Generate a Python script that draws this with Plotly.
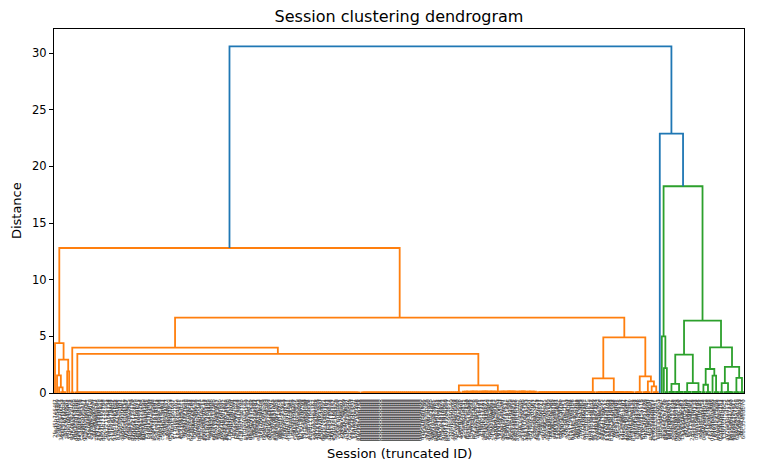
import hashlib
import plotly.graph_objects as go

# groups of (near) identical sessions, merged at ~0 distance
# side: where the parent link attaches ('l' left end, 'r' right end, 'm' middle)
group_names = ["s0", "s1", "s2", "g3", "s6", "s7", "gA", "gB", "gC1", "gC2",
               "gD1", "gD2", "gE1", "gE2", "s294", "gE3", "s298", "s299", "s300", "gF1",
               "gH1", "gH2", "gH3", "gH4", "gK1", "gK2", "s324", "gK3", "gM1", "gM2",
               "gM3", "gM4"]
group_sizes = [1, 1, 1, 3, 1, 1, 2, 141, 50, 37,
               29, 19, 4, 4, 1, 3, 1, 1, 1, 2,
               3, 4, 4, 5, 2, 3, 1, 3, 2, 5,
               3, 2]
group_heights = [0, 0, 0, 0.08, 0, 0, 0.06, 0.06, 0.06, 0.12,
                 0.08, 0.08, 0.08, 0.08, 0, 0.08, 0, 0, 0, 0.08,
                 0.1, 0.1, 0.1, 0.1, 0.08, 0.08, 0, 0.08, 0.08, 0.08,
                 0.08, 0.08]
group_sides = ["m", "m", "m", "m", "m", "m", "m", "l", "r", "m",
               "r", "m", "r", "r", "m", "r", "m", "m", "m", "m",
               "m", "m", "m", "r", "m", "m", "m", "m", "m", "m",
               "m", "m"]

# visible merges
merge_names = ["L5", "L3", "L4", "L2", "L", "C", "R1b", "R1", "R2L", "R2R3",
               "R2R2", "R2R", "R2", "R", "O", "G1b", "G1", "G2aL", "G2aR", "G2a",
               "G2bL1", "G2bL2", "G2bL", "G2bR1", "G2bR2", "G2bR", "G2b", "G2", "G", "BL",
               "ROOT"]
merge_left = ["s2", "s1", "s6", "L3", "s0", "gC1", "gB", "gA", "gD1", "s294",
              "gE2", "gE1", "R2L", "R1", "L", "s300", "s299", "gH1", "gH3", "G2aL",
              "gK1", "s324", "G2bL1", "gM1", "gM3", "G2bR1", "G2bL", "G2a", "G1", "s298",
              "O"]
merge_right = ["g3", "L5", "s7", "L4", "L2", "gC2", "C", "R1b", "gD2", "gE3",
               "R2R3", "R2R2", "R2R", "R2", "R", "gF1", "G1b", "gH2", "gH4", "G2aR",
               "gK2", "gK3", "G2bL2", "gM2", "gM4", "G2bR2", "G2bR", "G2b", "G2", "G",
               "BL"]
merge_heights = [0.5, 1.55, 1.9, 2.94, 4.4, 0.67, 3.45, 4.0, 1.29, 0.58,
                 1.02, 1.47, 4.91, 6.66, 12.8, 2.2, 5.0, 0.8, 0.88, 3.38,
                 0.73, 1.53, 2.12, 0.88, 1.33, 2.3, 4.03, 6.39, 18.25, 22.9,
                 30.6]

n_leaves = sum(group_sizes)
# truncated session ids (the originals are not legible); one run of duplicates
dup_id = "000000000000"
dup_first, dup_last = 151, 180
session_ids = [hashlib.md5(f"session-{i}".encode()).hexdigest()[:12] for i in range(n_leaves)]
for i in range(dup_first, dup_last + 1):
    session_ids[i] = dup_id

palette = ["#ff7f0e", "#2ca02c", "#d62728", "#9467bd"]
above_color = "#1f77b4"
threshold = 0.7 * max(merge_heights)

groups = {n: (s, h, sd) for n, s, h, sd in zip(group_names, group_sizes, group_heights, group_sides)}
merges = {n: (a, b, h) for n, a, b, h in zip(merge_names, merge_left, merge_right, merge_heights)}

segs = {}
leaf_x = []


def link(color, x1, y1, x2, y2, h):
    xs, ys = segs.setdefault(color, ([], []))
    xs += [x1, x1, x2, x2, None]
    ys += [y1, h, h, y2, None]


def lay_group(name, color):
    size, h, side = groups[name]
    xs = []
    for _ in range(size):
        xs.append(5 + 10 * len(leaf_x))
        leaf_x.append(xs[-1])
    if size == 1:
        return xs[0], 0
    if side == "r":
        c, ch = xs[0], 0
        for x in xs[1:]:
            link(color, c, ch, x, 0, h)
            c, ch = (c + x) / 2, h
        return c, h
    if side == "l":
        c, ch = xs[-1], 0
        for x in reversed(xs[:-1]):
            link(color, x, 0, c, ch, h)
            c, ch = (c + x) / 2, h
        return c, h

    def bal(part):
        if len(part) == 1:
            return part[0], 0
        m = len(part) // 2
        lx, lh = bal(part[:m])
        rx, rh = bal(part[m:])
        link(color, lx, lh, rx, rh, h)
        return (lx + rx) / 2, h
    return bal(xs)


def lay(name, color, used):
    if name in groups:
        if color is None and groups[name][0] > 1:
            color = palette[len(used)]
            used.append(color)
        return lay_group(name, color)
    a, b, h = merges[name]
    if h >= threshold:
        own, sub = above_color, None
    else:
        if color is None:
            color = palette[len(used)]
            used.append(color)
        own, sub = color, color
    ax_, ah = lay(a, sub, used)
    bx, bh = lay(b, sub, used)
    link(own, ax_, ah, bx, bh, h)
    return (ax_ + bx) / 2, h


lay("ROOT", None, [])

fig = go.Figure()
for color in palette + [above_color]:
    if color in segs:
        xs, ys = segs[color]
        fig.add_trace(go.Scatter(x=xs, y=ys, mode="lines",
                                 line=dict(color=color, width=1.8),
                                 hoverinfo="skip", showlegend=False))

fig.update_layout(
    width=758, height=470,
    margin=dict(l=54, r=12, t=29, b=77),
    plot_bgcolor="white", paper_bgcolor="white",
    font=dict(family="DejaVu Sans", color="black"),
    title=dict(text="Session clustering dendrogram", x=0.5, xref="paper", xanchor="center",
               y=1 - 16 / 470, yref="container", yanchor="middle", font=dict(size=16)),
)
fig.update_xaxes(range=[0, 10 * n_leaves], tickmode="array", tickvals=leaf_x, ticktext=session_ids,
                 tickangle=-90, tickfont=dict(size=5.5, color="#333333"), ticks="", ticklabelstandoff=3,
                 showline=True, mirror=True, linecolor="black", linewidth=1,
                 showgrid=False, zeroline=False)
fig.update_yaxes(range=[0, 1.05 * max(merge_heights)], tickmode="array", tickvals=[0, 5, 10, 15, 20, 25, 30],
                 ticks="outside", ticklen=4, tickwidth=1, tickcolor="black", tickfont=dict(size=11.5),
                 showline=True, mirror=True, linecolor="black", linewidth=1,
                 showgrid=False, zeroline=False)
fig.add_annotation(text="Distance", x=(16 - 54) / 692, y=0.5, xref="paper", yref="paper",
                   textangle=-90, showarrow=False, font=dict(size=13), xanchor="center", yanchor="middle")
fig.add_annotation(text="Session (truncated ID)", x=0.5, y=-60 / 364, xref="paper", yref="paper",
                   showarrow=False, font=dict(size=13), xanchor="center", yanchor="middle")

fig.write_html("out.html", config={"displayModeBar": False},
               post_script="document.body.style.margin = '0';")
